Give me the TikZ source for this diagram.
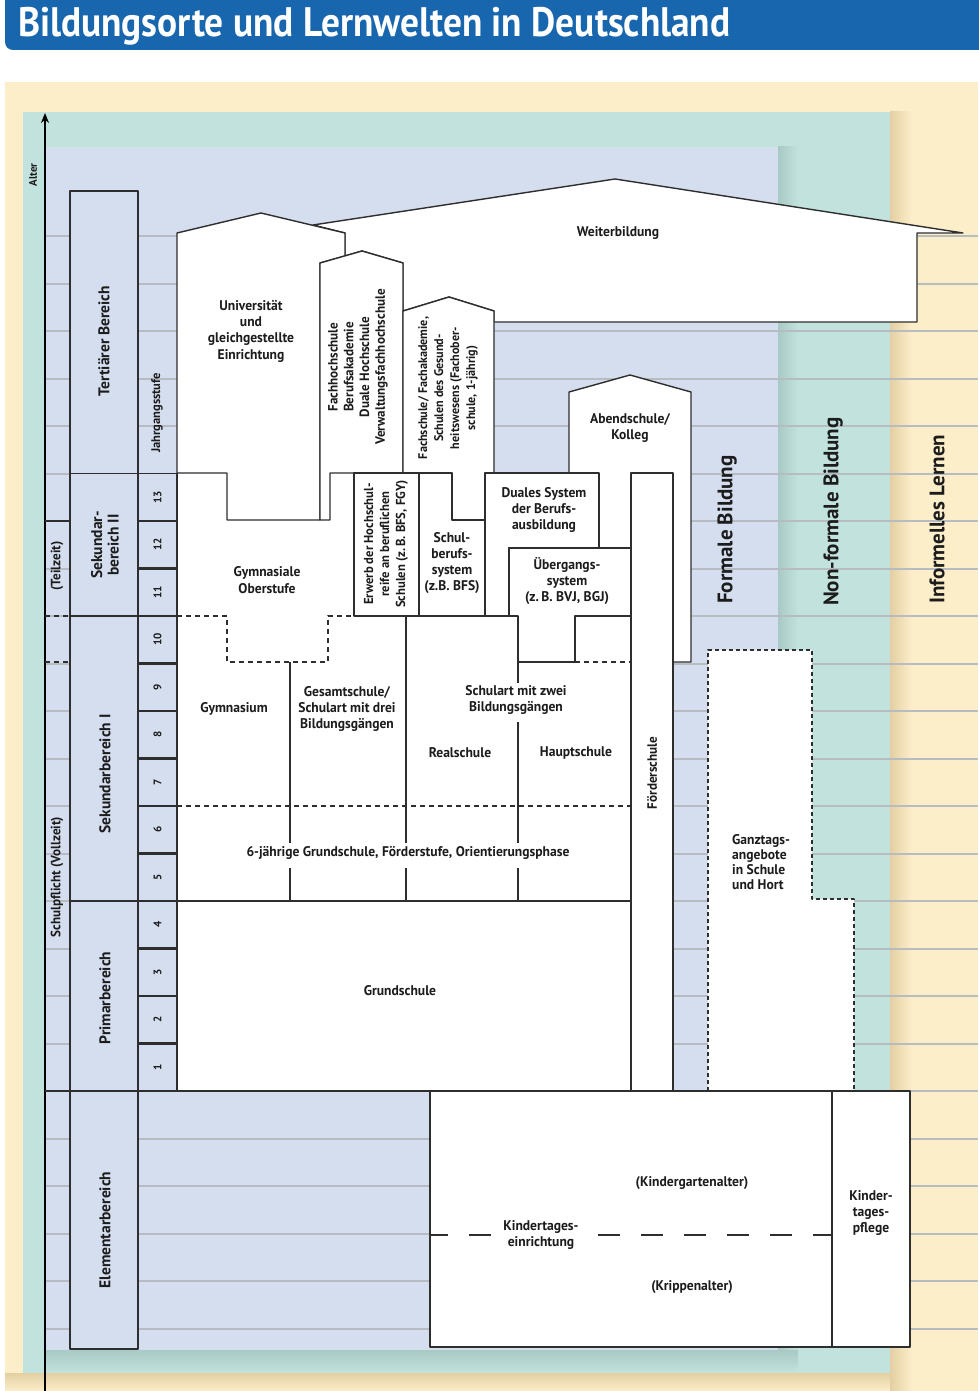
\documentclass[tikz,border=0pt]{standalone}
\usepackage{graphicx}
\usepackage{fontspec}
\setmainfont{PT Sans}
\newfontfamily\lblfont{PT Sans}[FakeStretch=0.97]
\usetikzlibrary{arrows.meta}
\definecolor{hdr}{HTML}{1766AE}
\definecolor{ylw}{HTML}{FDEECA}
\definecolor{ylwsh}{HTML}{E3CFA2}
\definecolor{tel}{HTML}{C2E2DD}
\definecolor{telsh}{HTML}{A9C9C4}
\definecolor{blu}{HTML}{D4DEEF}
\definecolor{ink}{HTML}{2E2E2E}
\definecolor{txt}{HTML}{1C1C1C}
\definecolor{gridc}{HTML}{B7BBC2}
\tikzset{
 box/.style={draw=ink, line width=1.4pt, fill=white},
 ln/.style={draw=ink, line width=1.4pt},
 thk/.style={draw=ink, line width=2.4pt},
 dsh/.style={draw=ink, line width=1.3pt, dash pattern=on 5pt off 4pt},
 dotl/.style={draw=ink, line width=1.5pt, dash pattern=on 4pt off 3pt},
 kdash/.style={draw=ink, line width=1.3pt, dash pattern=on 22pt off 21pt, dash phase=4pt},
 gridln/.style={draw=gridc, line width=2pt},
 colbox/.style={draw=ink, line width=1.4pt, fill=blu},
 lbl/.style={font=\lblfont\bfseries\fontsize{14}{16.3}\selectfont, align=center, inner sep=1pt, text=txt},
 rlbl/.style={font=\lblfont\bfseries\fontsize{13.5}{15.7}\selectfont, align=center, inner sep=1pt, text=txt, rotate=90},
 bb/.style={font=\bfseries\fontsize{15.5}{16.5}\selectfont, align=center, rotate=90, text=txt, inner sep=1pt},
 big/.style={font=\bfseries\fontsize{21}{24}\selectfont, rotate=90, anchor=west, text=txt, inner sep=0pt},
 grade/.style={font=\bfseries\fontsize{11}{12}\selectfont, rotate=90, text=txt, inner sep=0pt},
}
\begin{document}
\begin{tikzpicture}[x=1pt,y=-1pt,line join=round]
\useasboundingbox (0,0) rectangle (978,1391);
\fill[white] (0,0) rectangle (978,1391);
% header
\fill[hdr, rounded corners=8pt] (5,-12) rectangle (995,50);
\node[anchor=west, inner sep=0pt, text=white] (title) at (18,26)
  {\resizebox*{712pt}{38pt}{\bfseries Bildungsorte und Lernwelten in Deutschland}};
% backgrounds
\fill[ylw] (5,82) rectangle (978,1391);
\shade[top color=ylwsh, bottom color=ylw] (5,1373) rectangle (890,1391);
\shade[left color=ylwsh, right color=ylw] (890,112) rectangle (912,1391);
\fill[tel] (23,112) rectangle (890,1373);
\shade[left color=telsh, right color=tel] (778,147) rectangle (798,1372);
\shade[top color=telsh, bottom color=tel] (45,1350) rectangle (798,1372);
\fill[blu] (45,147) rectangle (778,1350);
\foreach \k in {-5,...,18}{\draw[gridln] (45,{1091-47.5*\k}) -- (978,{1091-47.5*\k});}
% axis
\coordinate (axB) at (45,1395);
\coordinate (axT) at (45,113);
\draw[line width=2pt, black, -{Stealth[length=10pt,width=8pt]}] (axB) -- (axT);
\node[font=\bfseries\fontsize{11}{12}\selectfont, rotate=90, text=txt] (alter) at (33,175) {Alter};
% left column
\draw[colbox] (70,191) rectangle (138,473.5);
\draw[colbox] (70,473.5) rectangle (138,616);
\draw[colbox] (70,616) rectangle (138,901);
\draw[colbox] (70,901) rectangle (138,1091);
\draw[colbox] (70,1091) rectangle (138,1349);
\foreach \k in {1,...,13}{
  \draw[colbox] (138,{1091-47.5*\k}) rectangle (177,{1091-47.5*(\k-1)});
  \node[grade] (g\k) at (157.5,{1091-47.5*(\k-0.5)}) {\k};
}
\foreach \k in {1,2,3,4,5,7,8,9,11}{\draw[thk] (138,{1091-47.5*\k}) -- (177,{1091-47.5*\k});}
% Teilzeit / Vollzeit marks
\draw[ln] (45,521) -- (70,521);
\draw[dsh] (45,616) -- (70,616);
\draw[dsh] (45,662) -- (70,662);
\draw[ln] (45,1091) -- (430,1091);
% white school block
\fill[white] (177,473) rectangle (631,1091);
% Weiterbildung
\draw[box] (313,225) -- (615,179) -- (963,233) -- (917,233) -- (917,322) -- (494,322) -- (494,311) -- (449,297) -- (403,311) -- (403,263) -- (362,251) -- (345,256) -- (345,233) -- cycle;
% Universitaet
\draw[box] (177,473) -- (177,233) -- (261,213) -- (345,233) -- (345,256) -- (320,263) -- (320,520) -- (227,520) -- (227,473) -- cycle;
% Fachhochschule
\draw[box] (320,520) -- (320,263) -- (362,251) -- (403,263) -- (403,473) -- (330,473) -- (330,520) -- cycle;
% Fachschule
\draw[box] (403,473) -- (403,311) -- (449,297) -- (494,311) -- (494,473) -- (485,473) -- (485,520) -- (452,520) -- (452,473) -- cycle;
% Abendschule
\fill[white] (569,473) -- (569,392) -- (630,375) -- (691,392) -- (691,662) -- (631,662) -- (631,473) -- cycle;
\draw[ln] (569,473) -- (569,392) -- (630,375) -- (691,392) -- (691,662) -- (631,662);
% Erwerb, Schulberufssystem, Duales, Uebergang
\draw[box] (354,473) rectangle (419,616);
\draw[box] (419,473) -- (452,473) -- (452,520) -- (485,520) -- (485,616) -- (419,616) -- cycle;
\draw[box] (485,473) -- (599,473) -- (599,548) -- (509,548) -- (509,616) -- (485,616) -- cycle;
\draw[box] (509,548) -- (631,548) -- (631,616) -- (575,616) -- (575,662) -- (518,662) -- (518,616) -- (509,616) -- cycle;
% Foerderschule
\draw[box] (631,473) rectangle (673,1091);
% school block outline and inner lines
\draw[ln] (177,473) -- (177,1091) -- (631,1091);
\draw[ln] (406,616) -- (518,616);
\draw[ln] (177,901) -- (631,901);
\draw[dsh] (575,662) -- (631,662);
\draw[dsh] (177,616) -- (227,616) -- (227,662) -- (328,662) -- (328,616) -- (354,616);
\draw[dsh] (177,806) -- (631,806);
\draw[ln] (290,662) -- (290,843);
\draw[ln] (290,868) -- (290,901);
\draw[ln] (406,616) -- (406,843);
\draw[ln] (406,868) -- (406,901);
\draw[ln] (518,662) -- (518,683);
\draw[ln] (518,722) -- (518,843);
\draw[ln] (518,868) -- (518,901);
% Ganztag
\draw[dotl, fill=white] (708,1091) -- (708,650) -- (812,650) -- (812,899) -- (854,899) -- (854,1091);
% Kita
\draw[box] (430,1091) rectangle (832,1347);
\draw[box] (832,1091) rectangle (910,1347);
\draw[kdash] (430,1235) -- (832,1235);
% texts
\node[lbl] (wb) at (618,233) {Weiterbildung};
\node[lbl] (uni) at (251,331) {Universität\\und\\gleichgestellte\\Einrichtung};
\node[rlbl] (fh) at (358,367) {Fachhochschule\\Berufsakademie\\Duale Hochschule\\Verwaltungsfachhochschule};
\node[rlbl, font=\lblfont\bfseries\fontsize{12.5}{16}\selectfont] (fs) at (448,388) {Fachschule/ Fachakademie,\\Schulen des Gesund-\\heitswesens (Fachober-\\schule, 1-jährig)};
\node[lbl] (abend) at (630,428) {Abendschule/\\Kolleg};
\node[rlbl, font=\lblfont\bfseries\fontsize{13}{16}\selectfont] (erw) at (386,544) {Erwerb der Hochschul-\\reife an beruflichen\\Schulen (z.\,B. BFS, FGY)};
\node[lbl] (sbs) at (452,563) {Schul-\\berufs-\\system\\(z.B. BFS)};
\node[lbl] (dual) at (544,510) {Duales System\\der Berufs-\\ausbildung};
\node[lbl] (ueb) at (567,581) {Übergangs-\\system\\(z.\,B. BVJ, BGJ)};
\node[lbl] (gymo) at (267,580) {Gymnasiale\\Oberstufe};
\node[lbl] (gym) at (234,709) {Gymnasium};
\node[lbl] (ges) at (347,709) {Gesamtschule/\\Schulart mit drei\\Bildungsgängen};
\node[lbl] (zwei) at (516,700) {Schulart mit zwei\\Bildungsgängen};
\node[lbl] (real) at (460,753) {Realschule};
\node[lbl] (haupt) at (576,753) {Hauptschule};
\node[lbl] (orient) at (408,853) {6-jährige Grundschule, Förderstufe, Orientierungsphase};
\node[lbl] (grund) at (400,991) {Grundschule};
\node[rlbl] (foerd) at (652,773) {Förderschule};
\node[lbl, align=left, anchor=west, font=\lblfont\bfseries\fontsize{14}{15}\selectfont] (ganz) at (731,862) {Ganztags-\\angebote\\in Schule\\und Hort};
\node[lbl, fill=white, inner xsep=12pt, inner ysep=1pt] (kite) at (541,1235) {Kindertages-\\einrichtung};
\node[lbl] (kga) at (692,1183) {(Kindergartenalter)};
\node[lbl] (krip) at (692,1287) {(Krippenalter)};
\node[lbl] (ktp) at (871,1213) {Kinder-\\tages-\\pflege};
\node[big] (formal) at (727,604) {Formale Bildung};
\node[big] (nonf) at (833,606) {Non-formale Bildung};
\node[big] (infl) at (937,604) {Informelles Lernen};
\node[bb] (tert) at (104,341) {Tertiärer Bereich};
\node[bb] (sek2) at (105,545) {Sekundar-\\bereich II};
\node[bb] (sek1) at (105,774) {Sekundarbereich I};
\node[bb] (prim) at (105,998) {Primarbereich};
\node[bb] (elem) at (105,1230) {Elementarbereich};
\node[font=\bfseries\fontsize{12.5}{14}\selectfont, rotate=90, text=txt] (jgs) at (157,413) {Jahrgangsstufe};
\node[rlbl, font=\lblfont\bfseries\fontsize{13.5}{15}\selectfont] (teil) at (57,566) {(Teilzeit)};
\node[rlbl, font=\lblfont\bfseries\fontsize{13.5}{15}\selectfont] (voll) at (57,877) {Schulpflicht (Vollzeit)};
\end{tikzpicture}
\end{document}
